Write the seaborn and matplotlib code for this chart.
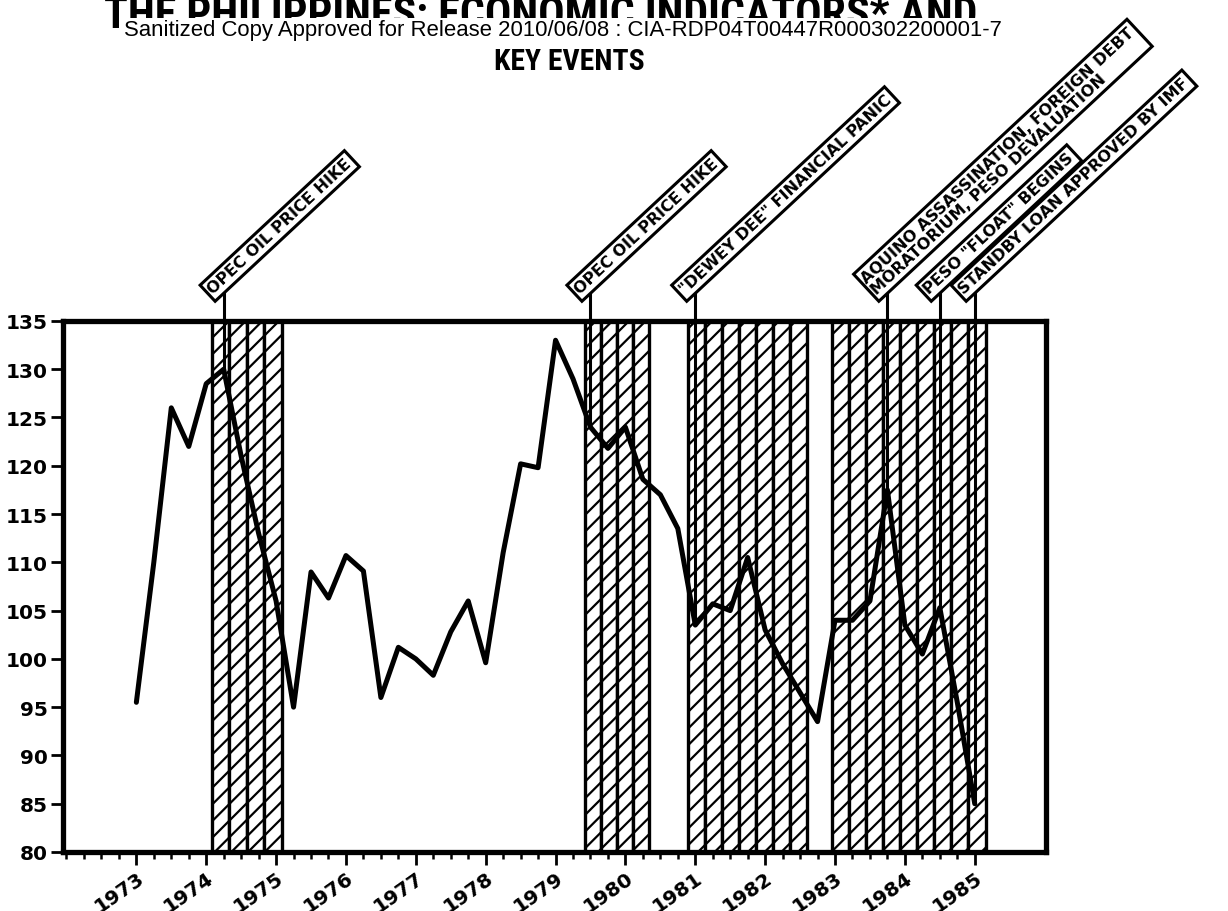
import numpy as np
import matplotlib
matplotlib.use('Agg')
import matplotlib.pyplot as plt
import seaborn as sns

# quarterly index, 1973 Q1 .. 1985 Q1
years = np.arange(1973, 1985.01, 0.25)
index_values = [95.5, 110, 126, 122, 128.5, 130, 121, 113, 106, 95,
                109, 106.3, 110.7, 109.1, 96, 101.2, 100, 98.3, 102.8, 106,
                99.6, 111, 120.2, 119.8, 133, 129, 124, 121.8, 124, 118.6,
                117, 113.5, 103.5, 105.7, 105, 110.5, 103, 99.5, 96.5, 93.5,
                104, 104, 106, 117.5, 103.5, 100.5, 105.3, 95.5, 85]

# hatched periods: start year, number of strips, strip width (years)
band_start = [1974.08, 1979.42, 1980.89, 1982.95]
band_quarters = [4, 4, 7, 9]
band_strip_width = [0.25, 0.23, 0.245, 0.245]

# key events
event_years = [1974.25, 1979.5, 1981.0, 1983.75, 1984.5, 1985.0]
event_labels = ['OPEC OIL PRICE HIKE',
                'OPEC OIL PRICE HIKE',
                '"DEWEY DEE" FINANCIAL PANIC',
                'AQUINO ASSASSINATION, FOREIGN DEBT\nMORATORIUM, PESO DEVALUATION',
                'PESO "FLOAT" BEGINS',
                'STANDBY LOAN APPROVED BY IMF']

year_ticks = list(range(1973, 1986))
y_ticks = list(range(80, 136, 5))

sns.set_style('white')
plt.rcParams['font.family'] = ['DejaVu Sans']
plt.rcParams['hatch.linewidth'] = 1.6
for k in ['text.color', 'axes.labelcolor', 'xtick.color', 'ytick.color']:
    plt.rcParams[k] = 'black'

fig = plt.figure(figsize=(12.28, 9.12), dpi=100)
ax = fig.add_axes([0.0513, 0.0647, 0.8005, 0.5823])

# hatched strips
strip_x = []
strip_w = []
for s, n, w in zip(band_start, band_quarters, band_strip_width):
    for q in range(n):
        strip_x.append(s + w * q)
        strip_w.append(w)
ax.bar(strip_x, 55, bottom=80, width=strip_w, align='edge', facecolor='white',
       edgecolor='black', hatch='//', linewidth=2.4, zorder=1)

sns.lineplot(x=years, y=index_values, color='black', linewidth=3.6, ax=ax, zorder=3)

ax.set_xlim(1971.95, 1986.02)
ax.set_ylim(80, 135)
ax.set_yticks(y_ticks)
ax.set_yticklabels([str(v) for v in y_ticks], fontsize=14.5, fontweight='bold')
ax.set_xticks(year_ticks)
ax.set_xticks(np.arange(1972, 1985.01, 0.25), minor=True)
ax.set_xticklabels([str(y) for y in year_ticks], fontsize=14.5, fontweight='bold',
                   rotation=35, ha='right', rotation_mode='anchor')
ax.tick_params(axis='y', direction='out', length=9, width=2, pad=2, left=True)
ax.tick_params(axis='x', which='major', direction='out', length=9, width=2, pad=2, bottom=True)
ax.tick_params(axis='x', which='minor', direction='out', length=5, width=1.8, bottom=True)
ax.set_xlabel('')
ax.set_ylabel('')
for sp in ax.spines.values():
    sp.set_visible(True)
    sp.set_color('black')
    sp.set_linewidth(3.8)

# event labels with connectors down to the line
for ev, lab in zip(event_years, event_labels):
    v = np.interp(ev, years, index_values)
    ax.plot([ev, ev], [v, 138.2], color='black', linewidth=2.2, clip_on=False, zorder=4)
    ax.text(ev - 0.12, 137.55, lab, rotation=43, rotation_mode='anchor',
            ha='left', va='bottom', fontsize=11.5, fontweight='bold',
            linespacing=1.0, zorder=5,
            bbox=dict(boxstyle='square,pad=0.22', facecolor='white',
                      edgecolor='black', linewidth=2.2))


def fit_width(t, width_px):
    fig.canvas.draw()
    w = t.get_window_extent().width
    t.set_fontsize(t.get_fontsize() * width_px / w)


head_font = ['Roboto Condensed', 'Roboto', 'DejaVu Sans']
t1 = fig.text(541 / 1228, 1 - 28 / 912, 'THE PHILIPPINES: ECONOMIC INDICATORS* AND',
              ha='center', va='baseline', fontsize=30, fontweight='bold',
              family=head_font)
fit_width(t1, 873)
t2 = fig.text(569 / 1228, 1 - 70 / 912, 'KEY EVENTS',
              ha='center', va='baseline', fontsize=30, fontweight='bold',
              family=head_font)
fit_width(t2, 150)
t3 = fig.text(563 / 1228, 1 - 36 / 912,
              'Sanitized Copy Approved for Release 2010/06/08 : CIA-RDP04T00447R000302200001-7',
              ha='center', va='baseline', fontsize=15, zorder=6,
              family=['Liberation Sans Narrow', 'Liberation Sans', 'DejaVu Sans'],
              bbox=dict(boxstyle='square,pad=0.05', facecolor='white', edgecolor='none'))
fit_width(t3, 883)

fig.savefig('out.png', dpi=100)
